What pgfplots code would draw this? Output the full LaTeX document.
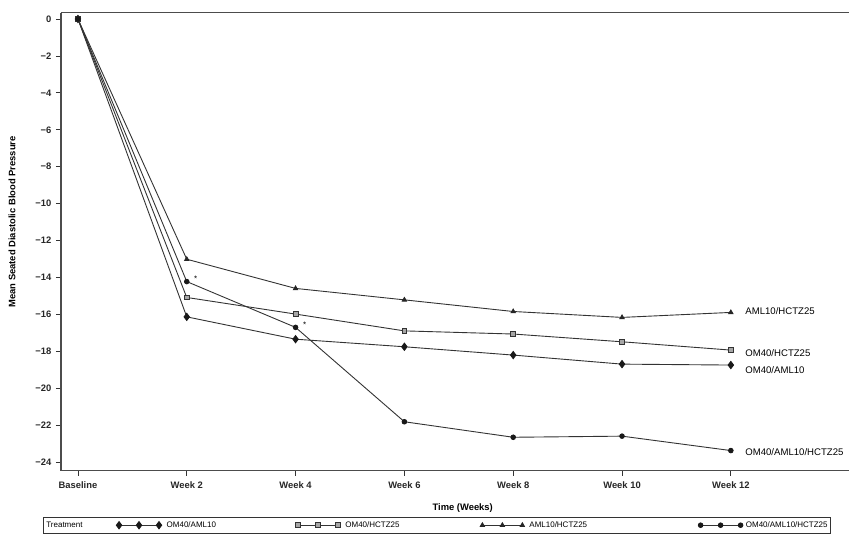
\documentclass[border=0pt]{standalone}
\usepackage{fontspec}
\setmainfont{Liberation Sans}
\usepackage{pgfplots}
\pgfplotsset{compat=1.18}

% Mean change from baseline, by visit (0 = Baseline, 1 = Week 2, ..., 6 = Week 12)
\newcommand{\tickfont}{\bfseries\fontsize{9.4}{11}\selectfont}
\newcommand{\labfont}{\fontsize{9.6}{11}\selectfont}
\newcommand{\legfont}{\fontsize{8}{10}\selectfont}

\begin{document}
\begin{tikzpicture}[x=1pt,y=1pt]
\path (0,0) rectangle (850,543);
\begin{axis}[
  at={(61pt,72pt)}, anchor=south west,
  scale only axis, width=789pt, height=458.3pt,
  xmin=-0.156, xmax=7.09, ymin=-24.46, ymax=0.34,
  axis y line*=left,
  xtick={0,1,2,3,4,5,6},
  xticklabels={Baseline,Week 2,Week 4,Week 6,Week 8,Week 10,Week 12},
  ytick={-24,-22,-20,-18,-16,-14,-12,-10,-8,-6,-4,-2,0},
  yticklabels={−24,−22,−20,−18,−16,−14,−12,−10,−8,−6,−4,−2,0},
  tick align=outside, xtick pos=bottom, ytick pos=left,
  major tick length=5pt,
  tick style={black!80, line width=0.8pt},
  axis line style={black!70, line width=1.1pt},
  ticklabel style={font=\tickfont, text=black!85},
  xticklabel style={yshift=-2pt},
  yticklabel style={xshift=-1pt},
  every axis plot/.append style={line width=0.9pt, color=black!80},
  legend columns=-1,
  legend style={at={(-0.0228,-0.1004)}, anchor=north west,
    draw=black!80, line width=0.8pt, font=\legfont,
    inner xsep=3pt, inner ysep=4.5pt,
    column sep=0pt,
    nodes={inner sep=0pt, anchor=west}},
  legend image code/.code={\draw[mark repeat=1, mark phase=1, #1]
    plot coordinates {(0pt,0pt) (20pt,0pt) (40pt,0pt)};},
]
\addlegendimage{empty legend}
\addlegendentry{\makebox[70pt][l]{Treatment}}

% OM40/AML10
\addplot[mark=diamond*, mark size=3.6pt, mark options={fill=black!90, draw=black!90}]
  coordinates {(0,0) (1,-16.13) (2,-17.34) (3,-17.75) (4,-18.20) (5,-18.69) (6,-18.74)};
\addlegendentry{\makebox[134pt][l]{\hspace*{5pt}OM40/AML10}}

% OM40/HCTZ25
\addplot[mark=square*, mark size=2.4pt, mark options={fill=black!35, draw=black!80, line width=0.8pt}]
  coordinates {(0,0) (1,-15.08) (2,-15.98) (3,-16.89) (4,-17.06) (5,-17.48) (6,-17.93)};
\addlegendentry{\makebox[140pt][l]{\hspace*{5pt}OM40/HCTZ25}}

% AML10/HCTZ25
\addplot[mark=triangle*, mark size=2.4pt, mark options={fill=black!85, draw=black!85}]
  coordinates {(0,0) (1,-13.01) (2,-14.59) (3,-15.21) (4,-15.84) (5,-16.16) (6,-15.89)};
\addlegendentry{\makebox[174pt][l]{\hspace*{5pt}AML10/HCTZ25}}

% OM40/AML10/HCTZ25
\addplot[mark=*, mark size=2.3pt, mark options={fill=black!90, draw=black!90}]
  coordinates {(0,0) (1,-14.22) (2,-16.70) (3,-21.81) (4,-22.65) (5,-22.59) (6,-23.37)};
\addlegendentry{\hspace*{3pt}OM40/AML10/HCTZ25}

% significance markers
\node[font=\legfont, anchor=center] at (axis cs:1,-14.22) [xshift=9pt, yshift=3pt] {*};
\node[font=\legfont, anchor=center] at (axis cs:2,-16.70) [xshift=9pt, yshift=3pt] {*};

% series labels at the last visit
\node[font=\labfont, anchor=west] at (axis cs:6,-15.89) [xshift=11pt, yshift=1.5pt] {AML10/HCTZ25};
\node[font=\labfont, anchor=west] at (axis cs:6,-17.93) [xshift=11pt, yshift=-2.5pt] {OM40/HCTZ25};
\node[font=\labfont, anchor=west] at (axis cs:6,-18.74) [xshift=11pt, yshift=-5.5pt] {OM40/AML10};
\node[font=\labfont, anchor=west] at (axis cs:6,-23.37) [xshift=11pt, yshift=-2pt] {OM40/AML10/HCTZ25};
\end{axis}
\node[rotate=90, font=\tickfont] at (12,321) {Mean Seated Diastolic Blood Pressure};
\node[font=\tickfont] at (463,35) {Time (Weeks)};
\end{tikzpicture}
\end{document}
